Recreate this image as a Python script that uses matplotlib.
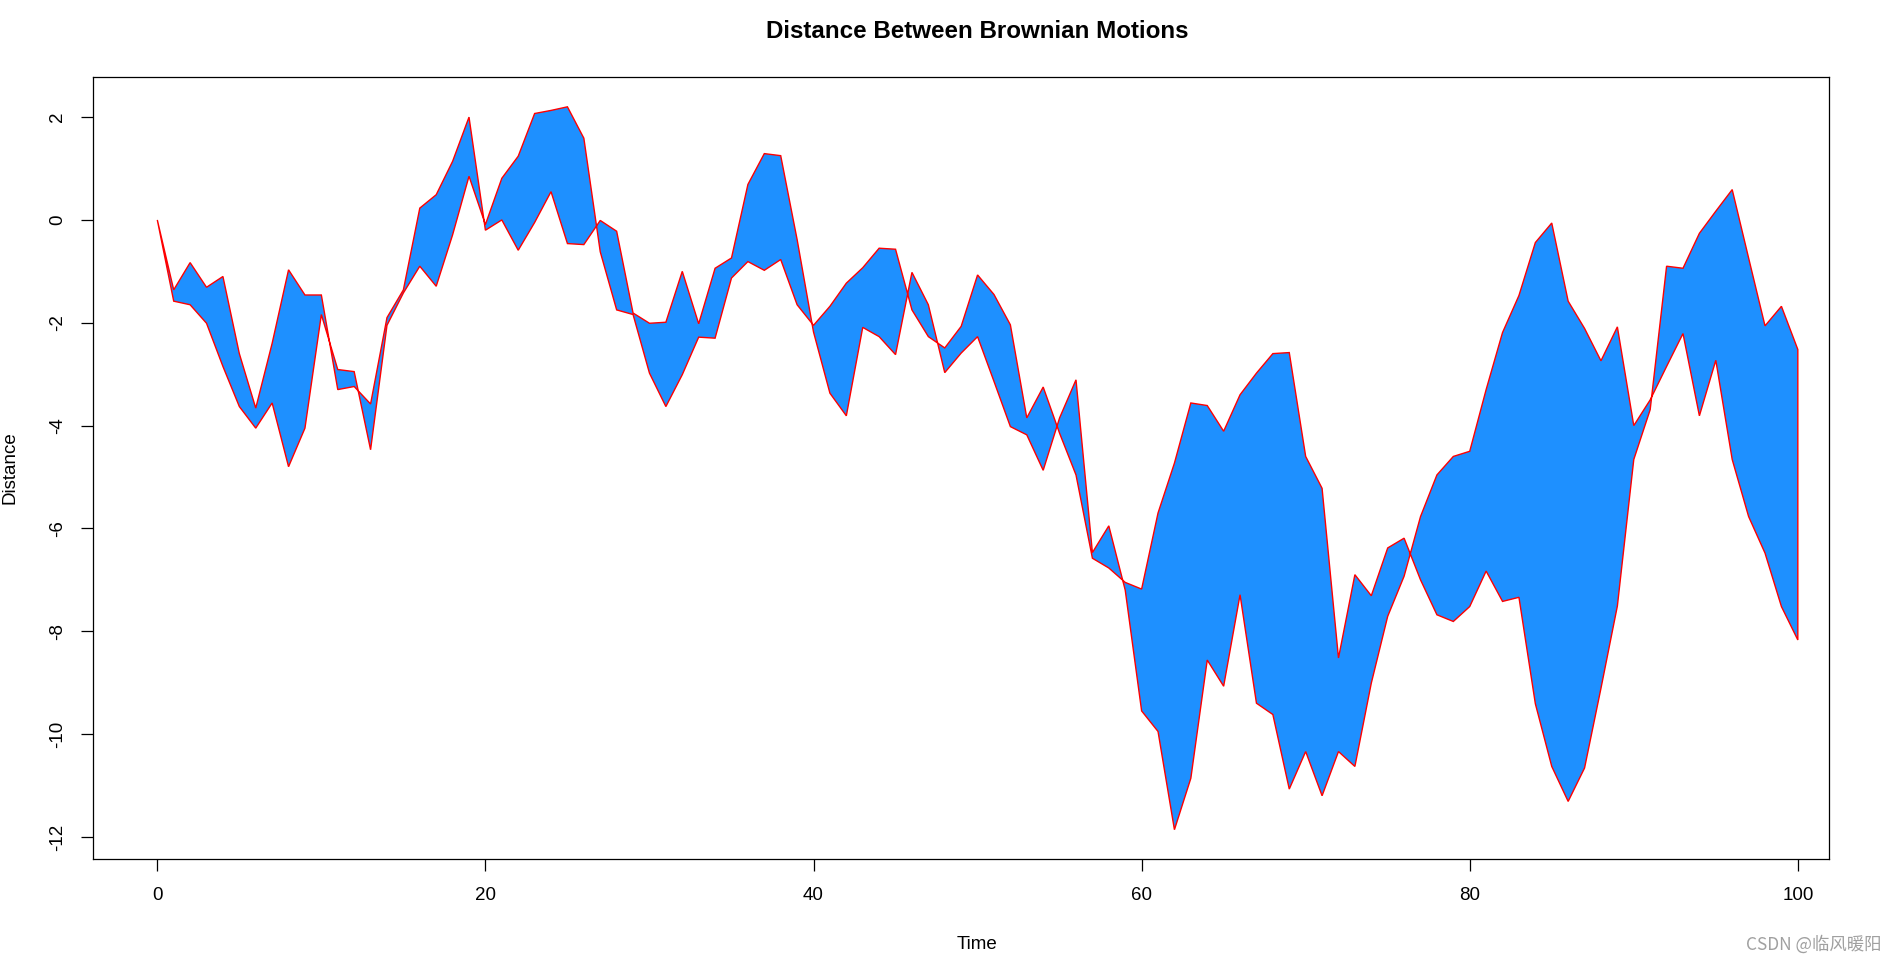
#!/usr/bin/env python3
# -*- coding: utf-8 -*-

import matplotlib
matplotlib.use("Agg")
import matplotlib.pyplot as plt

# time steps
time_arr = list(range(0, 101))

# first brownian motion
motion_x = [0.00, -1.36, -0.83, -1.31, -1.10, -2.60, -3.66, -2.40, -0.97, -1.46,
            -1.46, -3.30, -3.24, -3.58, -1.90, -1.36, 0.23, 0.49, 1.14, 2.00,
            -0.20, 0.00, -0.59, -0.05, 0.55, -0.46, -0.48, -0.01, -0.22, -1.81,
            -2.01, -1.99, -1.00, -2.02, -0.94, -0.74, 0.69, 1.29, 1.25, -0.38,
            -2.18, -3.37, -3.81, -2.09, -2.27, -2.62, -1.02, -1.65, -2.97, -2.59,
            -2.27, -3.14, -4.02, -4.18, -4.87, -3.85, -3.11, -6.47, -5.95, -7.20,
            -9.55, -9.95, -11.86, -10.86, -8.56, -9.07, -7.29, -9.40, -9.62, -11.07,
            -10.34, -11.20, -10.34, -10.63, -9.01, -7.71, -6.93, -5.77, -4.96, -4.60,
            -4.50, -3.30, -2.19, -1.47, -0.44, -0.06, -1.58, -2.11, -2.74, -2.08,
            -4.00, -3.50, -2.85, -2.21, -3.81, -2.73, -4.66, -5.77, -6.48, -7.52,
            -8.17]

# second brownian motion
motion_y = [0.00, -1.58, -1.65, -2.01, -2.85, -3.63, -4.05, -3.56, -4.80, -4.05,
            -1.84, -2.91, -2.95, -4.47, -2.05, -1.42, -0.90, -1.29, -0.29, 0.85,
            -0.09, 0.81, 1.24, 2.07, 2.13, 2.20, 1.59, -0.62, -1.75, -1.84,
            -2.98, -3.63, -3.01, -2.28, -2.30, -1.13, -0.81, -0.98, -0.77, -1.65,
            -2.05, -1.68, -1.23, -0.93, -0.55, -0.57, -1.75, -2.27, -2.49, -2.07,
            -1.07, -1.45, -2.04, -3.85, -3.25, -4.15, -4.96, -6.58, -6.77, -7.05,
            -7.18, -5.70, -4.73, -3.56, -3.61, -4.11, -3.40, -2.98, -2.60, -2.58,
            -4.60, -5.22, -8.52, -6.90, -7.31, -6.38, -6.19, -7.00, -7.68, -7.81,
            -7.52, -6.83, -7.42, -7.34, -9.41, -10.63, -11.31, -10.66, -9.11, -7.51,
            -4.66, -3.69, -0.90, -0.94, -0.26, 0.17, 0.59, -0.74, -2.06, -1.68,
            -2.52]

x_ticks = [0, 20, 40, 60, 80, 100]
y_ticks = [-12, -10, -8, -6, -4, -2, 0, 2]


def main():
    plt.rcParams['font.family'] = ['Liberation Sans', 'DejaVu Sans']

    W, H = 1897, 963
    fig = plt.figure(figsize=(W / 100, H / 100), dpi=100)
    # plot frame in pixels: left 93, right 1829, top 77, bottom 859
    ax = fig.add_axes([93 / W, 1 - 859 / H, (1829 - 93) / W, (859 - 77) / H])

    # polygon: forward along one motion, back along the other
    poly_x = time_arr + time_arr[::-1]
    poly_y = motion_x + motion_y[::-1]
    ax.fill(poly_x, poly_y, facecolor='#1E90FF', edgecolor='red', linewidth=1.0)

    ax.set_xlim(-3.92, 101.9)
    ax.set_ylim(-12.43, 2.78)

    ax.set_xticks(x_ticks)
    ax.set_xticklabels([str(v) for v in x_ticks], fontsize=13.5)
    ax.set_yticks(y_ticks)
    ax.set_yticklabels([str(v) for v in y_ticks], fontsize=13.5,
                       rotation=90, va='center')
    ax.tick_params(axis='both', direction='out', length=8.5, width=0.9)
    ax.tick_params(axis='x', pad=12)
    ax.tick_params(axis='y', pad=11)
    for sp in ax.spines.values():
        sp.set_linewidth(0.9)

    # titles like the R base plot
    fig.text(977 / W, 1 - 31 / H, "Distance Between Brownian Motions",
             ha='center', va='center', fontsize=17.4, fontweight='bold')
    fig.text(977 / W, 1 - 944 / H, "Time", ha='center', va='center', fontsize=13.5)
    fig.text(10 / W, 1 - 468 / H, "Distance", ha='center', va='center',
             rotation=90, fontsize=13.5)

    # watermark
    fig.text(1882 / W, 1 - 944 / H, "CSDN @临风暖阳", ha='right', va='center',
             fontsize=12.5, color='#a0a0a0',
             family=['Noto Sans CJK SC', 'DejaVu Sans'])

    fig.savefig("out.png", dpi=100)


if __name__ == '__main__':
    main()
